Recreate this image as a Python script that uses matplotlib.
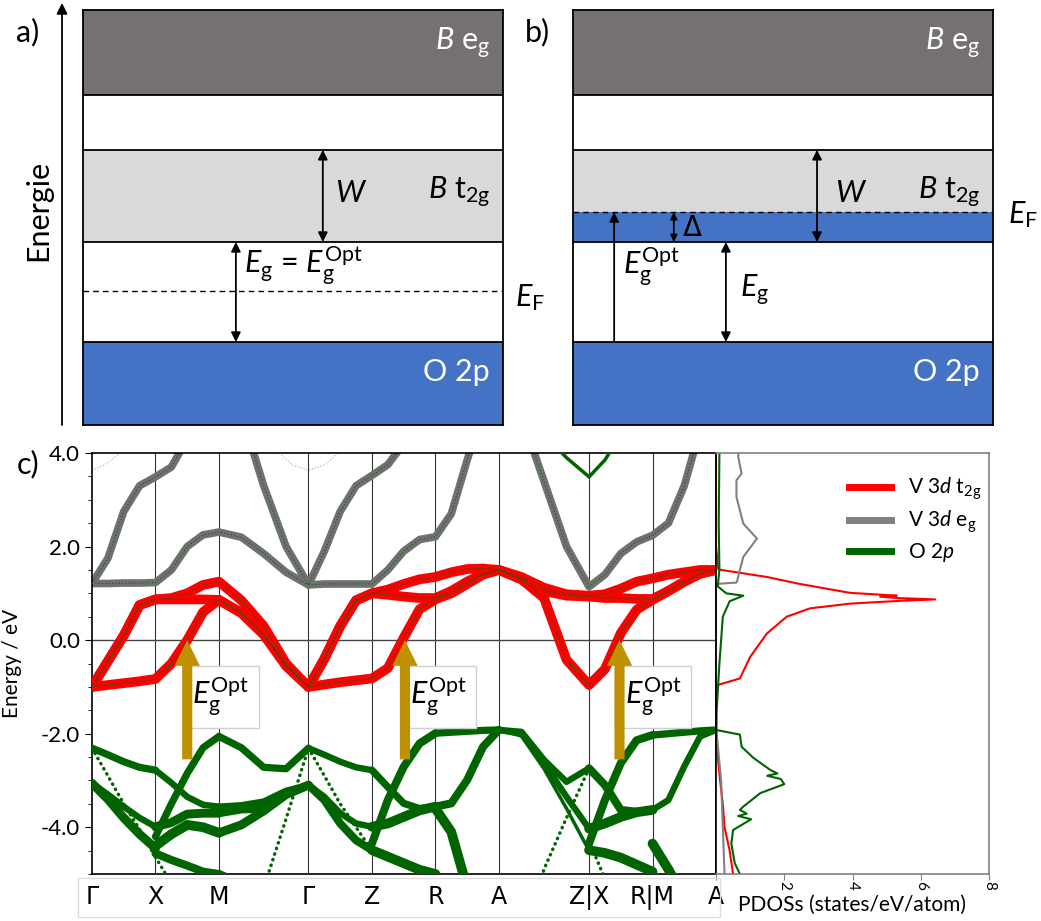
import numpy as np
import matplotlib.pyplot as plt
from matplotlib.ticker import MultipleLocator

plt.rcParams['font.family'] = ['Lato', 'DejaVu Sans']
plt.rcParams['mathtext.fontset'] = 'custom'
plt.rcParams['mathtext.rm'] = 'Lato'
plt.rcParams['mathtext.it'] = 'Lato:italic'
plt.rcParams['mathtext.bf'] = 'Lato:bold'
plt.rcParams['axes.unicode_minus'] = False

nan = np.nan

# ---- schematic levels (panels a, b), arbitrary energy units
o2p_level = (0.0, 2.0)
t2g_level = (4.41, 6.63)
eg_level = (7.95, 10.0)
ef_a = 3.23
ef_b = 5.13

# ---- band structure (panel c)
k_ticks = [0, 1, 2, 3.41, 4.41, 5.41, 6.41, 7.83, 8.83, 9.83]
k_names = ['Γ', 'X', 'M', 'Γ', 'Z', 'R', 'A', 'Z|X', 'R|M', 'A']

# V 3d t2g bands, 5 points per segment (shared ends)
t2g_1 = [-1.0, -0.96, -0.92, -0.88, -0.83,
         -0.5, 0.0, 0.6, 0.86,
         0.58, 0.12, -0.55, -1.0,
         -0.95, -0.9, -0.86, -0.82,
         -0.6, 0.05, 0.66, 0.87,
         1.0, 1.2, 1.4, 1.5,
         1.3, 0.9, -0.42, -0.96,
         -0.62, 0.15, 0.65, 0.86,
         1.05, 1.25, 1.42, 1.5]
t2g_2 = [-1.0, -0.45, 0.1, 0.75, 0.87,
         0.87, 0.87, 0.87, 0.86,
         0.58, 0.12, -0.55, -1.0,
         -0.4, 0.3, 0.85, 1.0,
         0.97, 0.93, 0.9, 0.9,
         1.05, 1.25, 1.42, 1.5,
         1.3, 1.05, 0.95, 0.93,
         0.9, 0.9, 0.88, 0.88,
         1.05, 1.25, 1.42, 1.5]
t2g_3 = [-1.0, -0.45, 0.1, 0.75, 0.87,
         0.9, 1.0, 1.18, 1.25,
         0.85, 0.3, -0.5, -1.0,
         -0.4, 0.3, 0.85, 1.0,
         1.08, 1.2, 1.3, 1.35,
         1.45, 1.52, 1.53, 1.5,
         1.35, 1.12, 0.98, 0.95,
         0.98, 1.1, 1.25, 1.32,
         1.4, 1.45, 1.5, 1.5]

# V 3d eg bands
eg_1 = [1.21, 1.21, 1.22, 1.22, 1.23,
        1.5, 2.0, 2.25, 2.31,
        2.2, 1.85, 1.45, 1.18,
        1.2, 1.2, 1.2, 1.2,
        1.5, 1.9, 2.15, 2.21,
        2.7, 3.85, 4.9, 5.5,
        4.8, 3.4, 2.0, 1.14,
        1.4, 1.85, 2.1, 2.24,
        2.5, 3.3, 4.5, 5.0]
eg_2 = [1.21, 1.75, 2.75, 3.3, 3.49,
        3.7, 4.3, 4.8, 5.5,
        4.85, 3.3, 2.0, 1.18,
        1.9, 2.75, 3.3, 3.52,
        3.75, 4.2, 4.7, 5.2,
        nan, nan, nan, nan,
        nan, nan, nan, nan,
        nan, nan, nan, nan,
        nan, nan, nan, nan]

# faint conduction bands near Γ
faint_k = [2.95, 3.15, 3.41, 3.67, 3.87]
faint_e = [4.0, 3.75, 3.63, 3.75, 4.0]
faint0_k = [0, 0.2, 0.45]
faint0_e = [3.63, 3.75, 4.0]

# O 2p bands per segment and their O weight
o2p_GX = [[-2.31, -2.45, -2.6, -2.72, -2.78],
          [-3.06, -3.3, -3.56, -3.8, -3.99],
          [-3.06, -3.4, -3.8, -4.15, -4.45],
          [-2.31, -2.9, -3.5, -4.05, -4.64]]
w_GX = [0.7, 0.6, 0.9, 0.1]
o2p_XM = [[-2.78, -3.05, -3.35, -3.52, -3.56],
          [-4.2, -3.5, -2.85, -2.3, -2.06],
          [-3.99, -3.9, -3.72, -3.7, -3.7],
          [-4.4, -4.15, -3.95, -4.0, -4.12],
          [-4.56, -4.7, -4.82, -4.95, -5.0],
          [-4.64, -5.2, -5.8, -6.3, -6.5]]
w_XM = [0.6, 0.7, 0.9, 1.0, 0.8, 0.1]
o2p_MG = [[-2.06, -2.3, -2.72, -2.75, -2.31],
          [-3.56, -3.53, -3.45, -3.22, -3.1],
          [-3.7, -3.62, -3.6, -3.3, -3.1],
          [-4.12, -3.95, -3.65, -3.3, -3.1],
          [-5.0, -5.2, -5.6, -6.0, -6.2],
          [-8.0, -7.0, -5.3, -3.82, -2.31]]
w_MG = [0.7, 0.6, 0.8, 0.9, 0.8, 0.1]
o2p_GZ = [[-2.31, -2.45, -2.6, -2.72, -2.78],
          [-2.31, -2.9, -3.5, -4.0, -4.5],
          [-3.1, -3.35, -3.7, -3.92, -3.99],
          [-3.1, -3.42, -3.92, -4.28, -4.49]]
w_GZ = [0.6, 0.1, 0.6, 0.8]
o2p_ZR = [[-2.78, -3.14, -3.49, -3.6, -3.56],
          [-4.35, -3.42, -2.71, -2.21, -1.99],
          [-3.99, -3.92, -3.78, -3.64, -3.56],
          [-4.49, -4.63, -4.77, -4.91, -5.0]]
w_ZR = [0.7, 0.8, 1.0, 1.0]
o2p_RA = [[-1.99, -1.97, -1.95, -1.93, -1.92],
          [-3.56, -3.49, -2.99, -2.28, -1.92],
          [-3.6, -4.1, -5.3, -6.0, -6.5]]
w_RA = [0.7, 0.8, 1.0]
o2p_AZ = [[-1.92, -1.96, -2.56, -3.03, -2.74],
          [-1.92, -2.0, -2.63, -3.35, -4.03],
          [-1.92, -2.05, -2.75, -3.6, -4.5],
          [-8.0, -6.5, -4.9, -3.8, -2.74],
          [5.5, 5.0, 4.4, 3.9, 3.49]]
w_AZ = [0.6, 0.6, 0.25, 0.1, 0.25]
o2p_XR = [[-2.74, -3.1, -3.63, -3.67, -3.63],
          [-4.35, -3.42, -2.63, -2.14, -2.03],
          [-4.03, -3.92, -3.78, -3.68, -3.63],
          [-4.49, -4.55, -4.65, -4.8, -4.95],
          [-4.3, -5.1, -6.0, -7.0, -8.0],
          [3.49, 3.85, 4.4, 5.0, 5.5]]
w_XR = [0.8, 0.8, 1.0, 1.0, 0.1, 0.25]
o2p_MA = [[-2.03, -2.0, -1.97, -1.94, -1.92],
          [-3.63, -3.42, -2.7, -2.06, -1.92],
          [-4.35, -4.9, -5.5, -6.0, -6.5]]
w_MA = [0.7, 0.6, 1.0]

opt_k = [1.5, 4.93, 8.31]
opt_tail = -2.55

# ---- PDOS
t2g_E = [-5.0, -4.5, -4.0, -3.5, -3.0, -2.5, -2.0, -1.5, -0.97, -0.82, -0.36, 0.14,
         0.5, 0.68, 0.78, 0.84, 0.87, 0.9, 0.93, 0.95, 1.01, 1.2, 1.35, 1.46, 1.51, 2.0, 4.0]
t2g_dos = [0.5, 0.4, 0.25, 0.2, 0.12, 0.05, 0.02, 0.0, 0.0, 0.7, 1.0, 1.49,
           2.07, 2.76, 3.93, 5.4, 6.42, 5.3, 4.81, 5.3, 3.93, 2.46, 1.49, 0.51, 0.07, 0.0, 0.0]
eg_E = [-5.0, -4.0, -3.0, -2.0, -1.9, 1.2, 1.23, 1.26, 1.5, 1.78, 2.17, 2.49, 3.06, 3.42, 3.56, 3.92, 4.0]
eg_dos = [0.25, 0.2, 0.15, 0.02, 0.0, 0.0, 0.6, 0.62, 0.7, 0.8, 1.2, 0.8, 0.6, 0.6, 0.75, 0.65, 0.66]
o2p_E = [-5.0, -4.77, -4.35, -4.06, -3.83, -3.76, -3.71, -3.63, -3.56, -3.27, -3.08, -2.97,
         -2.9, -2.85, -2.78, -2.52, -2.28, -2.02, -1.92, -1.5, -0.5, 0.5, 0.83, 0.95, 1.0,
         1.15, 1.5, 2.5, 4.0]
o2p_dos = [0.7, 0.55, 0.45, 0.5, 1.03, 0.65, 0.9, 0.7, 0.8, 1.3, 2.0, 1.9,
           1.5, 1.8, 1.6, 1.1, 0.75, 0.7, 0.0, 0.02, 0.1, 0.2, 0.4, 0.8, 0.3,
           0.05, 0.1, 0.08, 0.1]

blue = '#4472c4'
lgray = '#d9d9d9'
dgray = '#767171'
red = '#ff0000'
grey = '#707070'
green = '#006400'
gold = '#bf9000'

W, H = 1041, 921
fig = plt.figure(figsize=(W / 100, H / 100), dpi=100)


def px_rect(x0, y0, x1, y1):
    return [x0 / W, 1 - y1 / H, (x1 - x0) / W, (y1 - y0) / H]


def arrow(ax, x, y0, y1, style='<|-|>', ms=14):
    ax.annotate('', xy=(x, y1), xytext=(x, y0), annotation_clip=False,
                arrowprops=dict(arrowstyle=style, color='k', lw=1.3,
                                shrinkA=0, shrinkB=0, mutation_scale=ms))


def scheme(rect, ef, doped):
    ax = fig.add_axes(rect)
    ax.set_xlim(0, 1)
    ax.set_ylim(0, 10)
    ax.axhspan(*o2p_level, color=blue, lw=0)
    ax.axhspan(*t2g_level, color=lgray, lw=0)
    if doped:
        ax.axhspan(t2g_level[0], ef, color=blue, lw=0)
    ax.axhspan(*eg_level, color=dgray, lw=0)
    for y in (o2p_level[1], t2g_level[0], t2g_level[1], eg_level[0]):
        ax.axhline(y, color='k', lw=1.3)
    ax.axhline(ef, color='k', lw=1, ls=(0, (4, 3)))
    ax.set_xticks([])
    ax.set_yticks([])
    for s in ax.spines.values():
        s.set_linewidth(1.3)
    ax.text(0.969, 9.2, r'$B$ e$_\mathrm{g}$', color='white', fontsize=22, ha='right', va='center')
    ax.text(0.969, 5.6, r'$B$ t$_\mathrm{2g}$', fontsize=22, ha='right', va='center')
    ax.text(0.969, 1.28, 'O 2p', color='white', fontsize=22, ha='right', va='center')
    return ax


# panel a
ax_a = scheme(px_rect(83, 10, 503, 425), ef_a, False)
arrow(ax_a, 0.571, t2g_level[0], t2g_level[1])
arrow(ax_a, 0.364, o2p_level[1], t2g_level[0])
ax_a.text(0.6, 5.6, r'$W$', fontsize=22, va='center')
ax_a.text(0.383, 3.83, r'$E_\mathrm{g}$ = $E_\mathrm{g}^\mathrm{Opt}$', fontsize=22, va='center')
ax_a.text(1.029, 3.06, r'$E_\mathrm{F}$', fontsize=22, va='center')
arrow(ax_a, -0.05, 0, 10.17, style='-|>', ms=16)
ax_a.text(-0.107, 5.18, 'Energie', fontsize=22, rotation=90, ha='center', va='center')

# panel b
ax_bs = scheme(px_rect(573, 10, 993, 425), ef_b, True)
arrow(ax_bs, 0.581, t2g_level[0], t2g_level[1])
arrow(ax_bs, 0.240, t2g_level[0], ef_b, ms=10)
arrow(ax_bs, 0.364, o2p_level[1], t2g_level[0])
arrow(ax_bs, 0.098, o2p_level[1], ef_b, style='-|>')
ax_bs.text(0.624, 5.6, r'$W$', fontsize=22, va='center')
ax_bs.text(0.262, 4.75, 'Δ', fontsize=20, va='center', family='DejaVu Sans')
ax_bs.text(0.12, 3.8, r'$E_\mathrm{g}^\mathrm{Opt}$', fontsize=22, va='center')
ax_bs.text(0.398, 3.25, r'$E_\mathrm{g}$', fontsize=22, va='center')
ax_bs.text(1.036, 5.06, r'$E_\mathrm{F}$', fontsize=22, va='center')

fig.text(28 / W, 1 - 32 / H, 'a)', fontsize=22, ha='center', va='center')
fig.text(537 / W, 1 - 32 / H, 'b)', fontsize=22, ha='center', va='center')
fig.text(28 / W, 1 - 464 / H, 'c)', fontsize=22, ha='center', va='center')

# panel c: bands
axb = fig.add_axes(px_rect(92, 453, 716, 874))
k_grid = np.concatenate([np.linspace(k_ticks[i], k_ticks[i + 1], 5)[(0 if i == 0 else 1):]
                         for i in range(len(k_ticks) - 1)])

for k in k_ticks[1:-1]:
    axb.axvline(k, color='#333333', lw=0.8, zorder=1)
axb.axhline(0, color='#444444', lw=1.0, zorder=1)

axb.plot(faint_k, faint_e, color='#aaaaaa', lw=0.8, ls=':', zorder=1)
axb.plot(faint0_k, faint0_e, color='#aaaaaa', lw=0.8, ls=':', zorder=1)

for e in (eg_1, eg_2):
    axb.plot(k_grid, e, color=grey, lw=5.5, solid_capstyle='round', zorder=2)
    axb.plot(k_grid, e, color=green, lw=0.8, ls=(0, (1, 2)), zorder=4)

for e in (t2g_1, t2g_2, t2g_3):
    axb.plot(k_grid, e, color=red, lw=7, solid_capstyle='round', zorder=3)
for e in (t2g_1, t2g_2, t2g_3):
    axb.plot(k_grid, e, color=green, lw=0.9, ls=(0, (1, 1.5)), zorder=4)

o2p_segments = [(o2p_GX, w_GX), (o2p_XM, w_XM), (o2p_MG, w_MG), (o2p_GZ, w_GZ),
                (o2p_ZR, w_ZR), (o2p_RA, w_RA), (o2p_AZ, w_AZ), (o2p_XR, w_XR),
                (o2p_MA, w_MA)]
for i, (curves, ws) in enumerate(o2p_segments):
    kk = np.linspace(k_ticks[i], k_ticks[i + 1], 5)
    for e, w in zip(curves, ws):
        if w < 0.2:
            axb.plot(kk, e, color=green, lw=2.5, ls=(0, (0.1, 1.6)),
                     dash_capstyle='round', zorder=3)
        else:
            axb.plot(kk, e, color=green, lw=1 + 6 * w, solid_capstyle='round', zorder=3)

for k in opt_k:
    axb.arrow(k, opt_tail, 0, -opt_tail, width=0.16, head_width=0.4, head_length=0.55,
              length_includes_head=True, color=gold, lw=0, zorder=6)
    axb.text(k + 0.08, -1.22, r'$E_\mathrm{g}^\mathrm{Opt}$', fontsize=22, ha='left', va='center',
             bbox=dict(boxstyle='square,pad=0.3', fc='white', ec='#d0d0d0', lw=1), zorder=5)

axb.set_xlim(k_ticks[0], k_ticks[-1])
axb.set_ylim(-5, 4)
axb.set_xticks(k_ticks)
axb.set_xticklabels(k_names, fontsize=17, family='DejaVu Sans')
axb.tick_params(axis='x', length=0, pad=8)
axb.set_yticks([-4, -2, 0, 2, 4])
axb.set_yticklabels(['-4.0', '-2.0', '0.0', '2.0', '4.0'])
axb.yaxis.set_minor_locator(MultipleLocator(0.5))
axb.tick_params(axis='y', labelsize=16, length=5)
axb.tick_params(axis='y', which='minor', length=3)
axb.set_ylabel('Energy / eV', fontsize=15)
axb.yaxis.set_label_coords(-0.112, 0.5)
for s in axb.spines.values():
    s.set_linewidth(1.2)

fig.patches.append(plt.Rectangle((78 / W, 1 - 917 / H), 642 / W, 39 / H, transform=fig.transFigure,
                                 fill=False, ec='#dddddd', lw=1))

# panel c: PDOS
axd = fig.add_axes(px_rect(716, 453, 989, 874))
axd.plot(t2g_dos, t2g_E, color=red, lw=1.5, label=r'V 3$d$ t$_\mathrm{2g}$')
axd.plot(eg_dos, eg_E, color='#808080', lw=1.5, label=r'V 3$d$ e$_\mathrm{g}$')
axd.plot(o2p_dos, o2p_E, color=green, lw=1.5, label=r'O 2$p$')
axd.set_xlim(0, 8)
axd.set_ylim(-5, 4)
axd.set_yticks([])
axd.set_xticks([0, 2, 4, 6, 8])
axd.set_xticklabels(['', '2', '4', '6', '8'], rotation=-90, fontsize=11)
axd.tick_params(axis='x', length=4, pad=1, color='#808080')
axd.set_xlabel('PDOSs (states/eV/atom)', fontsize=15)
axd.xaxis.set_label_coords(0.5, -0.05)
for name, s in axd.spines.items():
    s.set_color('k' if name == 'left' else '#808080')
    s.set_linewidth(1.2)
leg = axd.legend(loc='upper left', bbox_to_anchor=(0.42, 0.99), frameon=False, fontsize=15,
                 handlelength=2.0, labelspacing=0.3)
for line in leg.get_lines():
    line.set_linewidth(5)

fig.savefig('out.png', dpi=100)
